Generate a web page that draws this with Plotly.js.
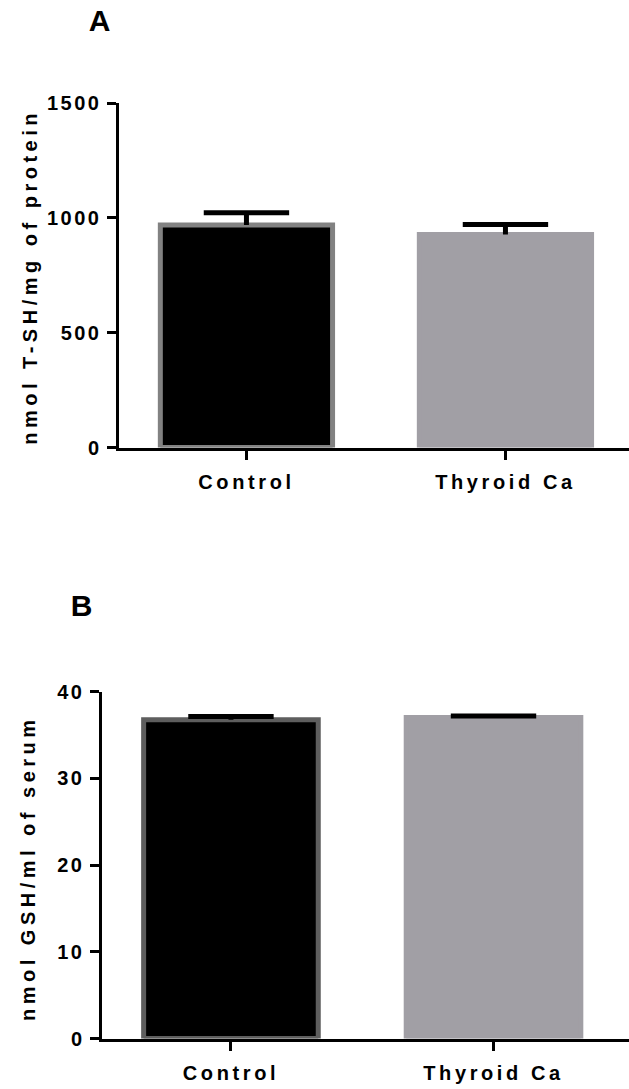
<!DOCTYPE html>
<html><head><meta charset="utf-8">
<script src="https://cdn.plot.ly/plotly-3.0.1.min.js"></script>
<style>
html,body{margin:0;padding:0;background:#fff;}
#chart .xtick text, #chart .x2tick text{letter-spacing:3.6px;}
#chart .ytick text, #chart .y2tick text{letter-spacing:2.5px;}
#chart .annotation-text{letter-spacing:4.5px;}
</style></head>
<body><div id="chart" style="width:629px;height:1089px;"></div>
<script>
// ---- data ----
const categories = ['Control', 'Thyroid Ca'];
const tshMean = [969, 928];
const tshSem = [54, 44];
const gshMean = [36.76, 37.02];
const gshSem = [0.37, 0.18];
const tshTicks = [0, 500, 1000, 1500];
const gshTicks = [0, 10, 20, 30, 40];
const panelLabels = ['A', 'B'];
const yTitles = ['nmol T-SH/mg of protein', 'nmol GSH/ml of serum'];

// ---- style ----
const FONT = 'Liberation Sans, Arial, Helvetica, sans-serif';
const W = 629, H = 1089;
const fillColors = ['#000000', '#a19fa5'];
const borderA = ['#828282', '#a19fa5'];
const borderB = ['#5e5e5e', '#a19fa5'];

function barTrace(vals, borders, xa, ya) {
  return {type: 'bar', x: categories, y: vals, xaxis: xa, yaxis: ya, width: 0.665,
    marker: {color: fillColors, line: {color: borders, width: 5}}, hoverinfo: 'skip'};
}
function errTrace(vals, sems, xa, ya) {
  return {type: 'scatter', mode: 'markers', x: categories,
    y: vals.map((v, i) => v + sems[i]), xaxis: xa, yaxis: ya,
    marker: {symbol: 'line-ew', size: 61, color: '#000', line: {color: '#000', width: 5}},
    error_y: {type: 'data', symmetric: false, array: vals.map(() => 0), arrayminus: sems,
      width: 0, thickness: 5, color: '#000'}, hoverinfo: 'skip'};
}

const data = [
  barTrace(tshMean, borderA, 'x', 'y'),
  errTrace(tshMean, tshSem, 'x', 'y'),
  barTrace(gshMean, borderB, 'x2', 'y2'),
  errTrace(gshMean, gshSem, 'x2', 'y2')
];

const axisCommon = {showline: true, linewidth: 3, linecolor: '#000', ticks: 'outside',
  ticklen: 9, tickwidth: 3, tickcolor: '#000', showgrid: false, zeroline: false,
  fixedrange: true, tickfont: {family: FONT, size: 20, color: '#000', weight: 'bold'}};

const layout = {
  width: W, height: H, margin: {l: 0, r: 0, t: 0, b: 0}, showlegend: false,
  paper_bgcolor: '#fff', plot_bgcolor: '#fff',
  xaxis: Object.assign({}, axisCommon, {domain: [118.5 / W, 1], range: [-0.494, 1.477],
    type: 'category', anchor: 'y', ticklabelstandoff: 5}),
  yaxis: Object.assign({}, axisCommon, {domain: [1 - 447.5 / H, 1 - 103.2 / H], range: [0, 1500],
    tickvals: tshTicks, ticktext: tshTicks.map(String), anchor: 'x', ticklabelstandoff: 1}),
  xaxis2: Object.assign({}, axisCommon, {domain: [101.5 / W, 1], range: [-0.493, 1.516],
    type: 'category', anchor: 'y2', ticklabelstandoff: 5}),
  yaxis2: Object.assign({}, axisCommon, {domain: [1 - 1038.5 / H, 1 - 691.7 / H], range: [0, 40],
    tickvals: gshTicks, ticktext: gshTicks.map(String), anchor: 'x2', ticklabelstandoff: 1}),
  annotations: [
    {text: panelLabels[0], x: 102 / W, y: 1 - 21 / H, xref: 'paper', yref: 'paper', showarrow: false,
     xanchor: 'center', yanchor: 'middle', font: {family: FONT, size: 30, color: '#000', weight: 'bold'}},
    {text: panelLabels[1], x: 84 / W, y: 1 - 605 / H, xref: 'paper', yref: 'paper', showarrow: false,
     xanchor: 'center', yanchor: 'middle', font: {family: FONT, size: 30, color: '#000', weight: 'bold'}},
    {text: yTitles[0], x: 30 / W, y: 1 - 277 / H, xref: 'paper', yref: 'paper', showarrow: false,
     textangle: -90, xanchor: 'center', yanchor: 'middle', font: {family: FONT, size: 20, color: '#000', weight: 'bold'}},
    {text: yTitles[1], x: 28 / W, y: 1 - 868 / H, xref: 'paper', yref: 'paper', showarrow: false,
     textangle: -90, xanchor: 'center', yanchor: 'middle', font: {family: FONT, size: 20, color: '#000', weight: 'bold'}}
  ]
};

Plotly.newPlot('chart', data, layout, {staticPlot: true, displayModeBar: false});
</script></body></html>
